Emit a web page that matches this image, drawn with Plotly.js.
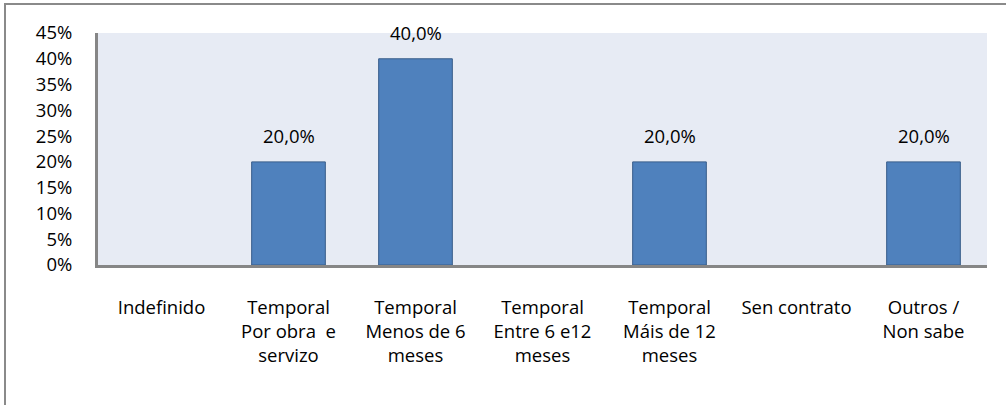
<!DOCTYPE html>
<html>
<head>
<meta charset="utf-8">
<script src="https://cdn.plot.ly/plotly-3.0.1.min.js"></script>
<style>
html,body{margin:0;padding:0;background:#fff;overflow:hidden;}
#frame{position:absolute;left:4px;top:3px;width:1020px;height:420px;border-top:2px solid #8a8a8a;border-left:2px solid #8a8a8a;box-sizing:border-box;}
#chart{position:absolute;left:0;top:0;width:1006px;height:405px;}
</style>
</head>
<body>
<div id="frame"></div>
<div id="chart"></div>
<script>
const categories = ["Indefinido","Temporal<br>Por obra  e<br>servizo","Temporal<br>Menos de 6<br>meses","Temporal<br>Entre 6 e12<br>meses","Temporal<br>Máis de 12<br>meses","Sen contrato","Outros /<br>Non sabe"];
const values = [0, 0.20, 0.40, 0, 0.20, 0, 0.20];
const labels = ["", "20,0%", "40,0%", "", "20,0%", "", "20,0%"];
const yTickVals = [0,0.05,0.10,0.15,0.20,0.25,0.30,0.35,0.40,0.45];
const yTickText = ["0%","5%","10%","15%","20%","25%","30%","35%","40%","45%"];

const font = "Open Sans, Liberation Sans, sans-serif";
const fs = 18.5;
const idx = categories.map((c,i)=>i);

const trace = {
  type: "bar",
  x: idx,
  y: values,
  marker: {color: "#4f81bd", line: {color: "#385d8a", width: values.map(v => v > 0 ? 1 : 0)}},
  hoverinfo: "skip"
};

const annotations = values.map((v,i)=> labels[i] ? ({
  x: i, y: v, xref: "x", yref: "y", text: labels[i], showarrow: false,
  yanchor: "bottom", yshift: 12, font: {family: font, size: fs, color: "#000"}
}) : null).filter(a=>a);

const layout = {
  width: 1006, height: 405,
  margin: {l: 98, r: 19, t: 33, b: 140},
  paper_bgcolor: "rgba(0,0,0,0)",
  plot_bgcolor: "#e7ebf4",
  bargap: 0.42,
  showlegend: false,
  font: {family: font, size: fs, color: "#000"},
  xaxis: {
    tickmode: "array", tickvals: idx, ticktext: categories,
    range: [-0.5, 6.5], showline: true, linecolor: "#868686", linewidth: 3,
    ticks: "", showgrid: false, zeroline: false, fixedrange: true,
    tickfont: {family: font, size: fs, color: "#000"}, ticklabelstandoff: 24
  },
  yaxis: {
    range: [0, 0.45], tickmode: "array", tickvals: yTickVals, ticktext: yTickText,
    showline: true, linecolor: "#868686", linewidth: 3, ticks: "",
    showgrid: false, zeroline: false, fixedrange: true,
    tickfont: {family: font, size: fs, color: "#000"}, ticklabelstandoff: 19
  },
  annotations: annotations
};

Plotly.newPlot("chart", [trace], layout, {displayModeBar: false, staticPlot: true});
</script>
</body>
</html>
